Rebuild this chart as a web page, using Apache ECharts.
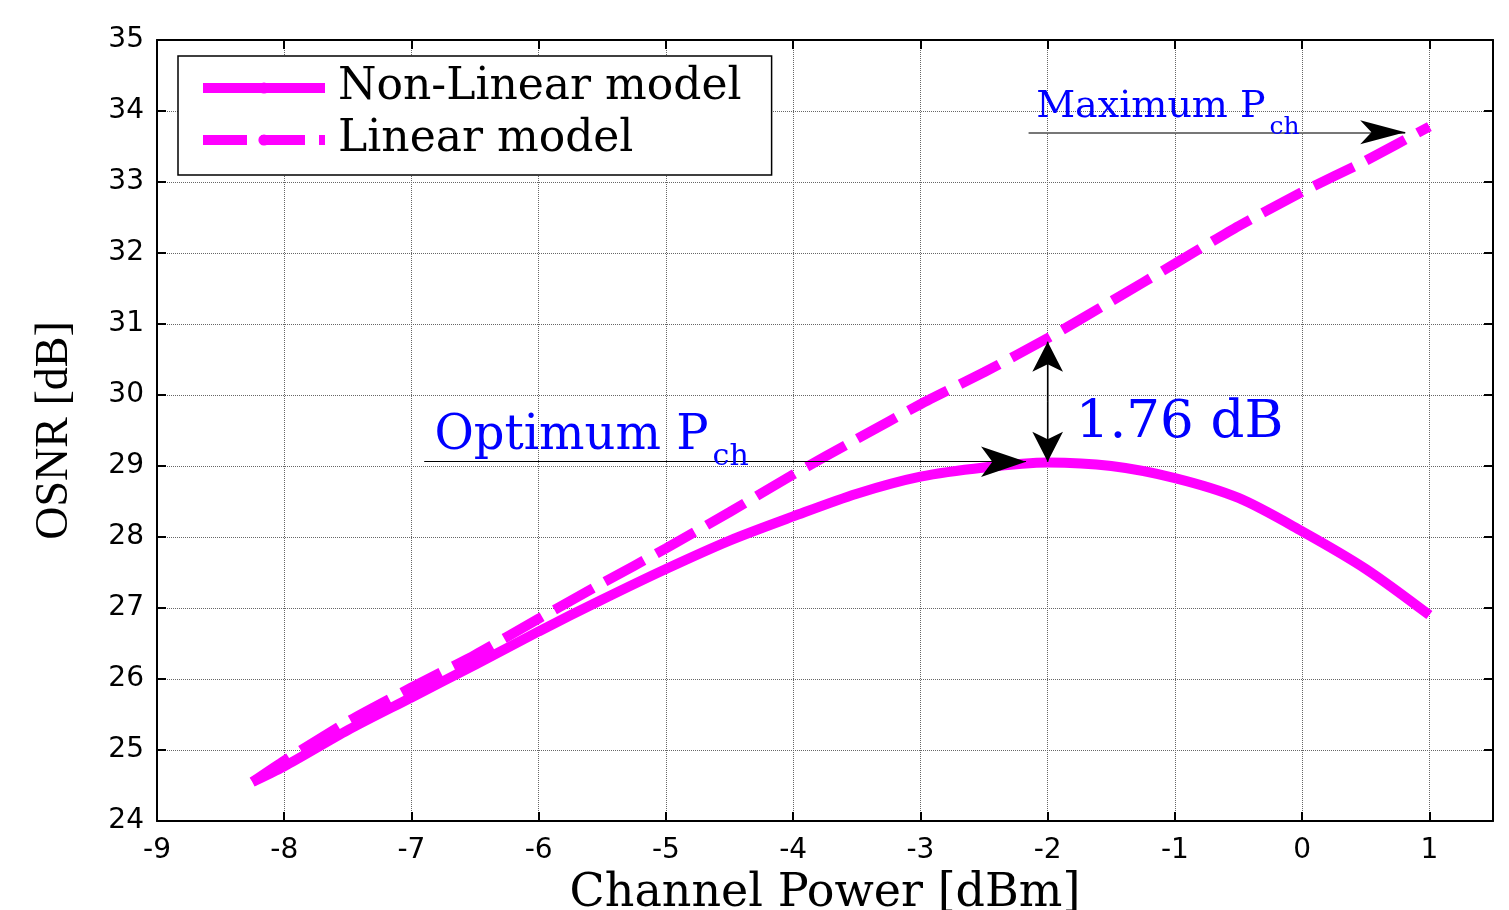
<!DOCTYPE html>
<html>
<head>
<meta charset="utf-8">
<title>OSNR vs Channel Power</title>
<script src="https://cdn.jsdelivr.net/npm/echarts@6/dist/echarts.min.js"></script>
<style>
  html, body { margin: 0; padding: 0; background: #fff; }
  #main { width: 1509px; height: 910px; }
</style>
</head>
<body>
<div id="main"></div>
<script>
// channel power [dBm] and OSNR [dB]
var powerNL = [-8.25, -8, -7.5, -7, -6.5, -6, -5.5, -5, -4.5, -4, -3.5, -3, -2.5, -2, -1.5, -1, -0.5, 0, 0.5, 1];
var osnrNL = [24.55, 24.77, 25.28, 25.74, 26.2, 26.67, 27.12, 27.55, 27.95, 28.29, 28.61, 28.85, 28.98, 29.05, 29.0, 28.83, 28.55, 28.08, 27.55, 26.9];
var powerLin = [-8.25, -8, -7.5, -7, -6.5, -6, -5.5, -5, -4.5, -4, -3.5, -3, -2.5, -2, -1.5, -1, -0.5, 0, 0.5, 1];
var osnrLin = [24.55, 24.85, 25.4, 25.88, 26.34, 26.85, 27.35, 27.84, 28.35, 28.88, 29.38, 29.87, 30.32, 30.8, 31.32, 31.85, 32.38, 32.86, 33.3, 33.78];

// axes
var xMin = -9, xMax = 1.5, xLastTick = 1;
var yMin = 24, yMax = 35;

// annotations (data coords)
var optPoint = [-2, 29.06];     // optimum Pch
var gapTop = 30.75;             // linear model at optimum
var optLineStart = -6.9;
var optArrowTip = -2.17;
var maxY = 33.70;
var maxLineStart = -2.15;
var maxArrowTip = 0.81;

var magenta = '#ff00ff';
var serif = 'DejaVu Serif';

var chart = echarts.init(document.getElementById('main'));

function pairs(xs, ys) {
  return xs.map(function (x, i) { return [x, ys[i]]; });
}

function frameAxis(pos, isX) {
  var a = {
    type: 'value',
    position: pos,
    axisLine: { show: true, onZero: false, lineStyle: { color: '#000', width: 2 } },
    axisTick: { show: true, inside: true, length: 9, lineStyle: { color: '#000', width: 2 } },
    axisLabel: { show: false },
    splitLine: { show: false }
  };
  if (isX) { a.min = xMin; a.max = xMax; a.interval = 1; }
  else { a.min = yMin; a.max = yMax; a.interval = 1; }
  return a;
}

var gridLine = { show: true, lineStyle: { color: '#666', type: 'dotted', width: 1 } };

var bottomAxis = frameAxis('bottom', true);
bottomAxis.name = 'Channel Power [dBm]';
bottomAxis.nameLocation = 'middle';
bottomAxis.nameGap = 50;
bottomAxis.nameTextStyle = { fontFamily: serif, fontSize: 46, color: '#000' };
bottomAxis.axisLabel = {
  show: true, color: '#000', fontFamily: 'DejaVu Sans', fontSize: 28, margin: 16,
  formatter: function (v) { return v > xLastTick ? '' : String(v); }
};
bottomAxis.splitLine = gridLine;

var leftAxis = frameAxis('left', false);
leftAxis.name = 'OSNR [dB]';
leftAxis.nameLocation = 'middle';
leftAxis.nameGap = 79;
leftAxis.nameTextStyle = { fontFamily: 'Liberation Serif', fontSize: 46, color: '#000' };
leftAxis.axisLabel = { show: true, color: '#000', fontFamily: 'DejaVu Sans', fontSize: 28, margin: 13 };
leftAxis.splitLine = gridLine;

// short black segment carrying an arrow head at a line end
function head(from, to, size) {
  return [
    { coord: from, symbol: 'none', lineStyle: { color: '#000', width: 1.2, type: 'solid' } },
    { coord: to, symbol: 'arrow', symbolSize: size }
  ];
}

option = {
  animation: false,
  backgroundColor: '#fff',
  grid: { left: 157, right: 16, top: 40, bottom: 89, outerBoundsMode: 'none', containLabel: false },
  legend: {
    left: 178,
    top: 56,
    orient: 'vertical',
    backgroundColor: '#fff',
    borderColor: '#000',
    borderWidth: 1.5,
    padding: [9, 30, 12, 20],
    itemGap: 6,
    itemWidth: 122,
    itemHeight: 14,
    lineStyle: { width: 10 },
    textStyle: { fontFamily: serif, fontSize: 44, lineHeight: 46, color: '#000', padding: [0, 0, 0, 8] },
    data: ['Non-Linear model', 'Linear model']
  },
  xAxis: [bottomAxis, frameAxis('top', true)],
  yAxis: [leftAxis, frameAxis('right', false)],
  series: [
    {
      name: 'Linear model',
      type: 'line',
      data: pairs(powerLin, osnrLin),
      symbol: 'none',
      smooth: 0.2,
      color: magenta,
      lineStyle: { color: magenta, width: 10, type: [44, 14] },
      z: 3
    },
    {
      name: 'Non-Linear model',
      type: 'line',
      data: pairs(powerNL, osnrNL),
      symbol: 'none',
      smooth: 0.3,
      color: magenta,
      lineStyle: { color: magenta, width: 10 },
      z: 2,
      markLine: {
        silent: true,
        animation: false,
        label: { show: false },
        emphasis: { disabled: true },
        data: [
          [
            { coord: [optLineStart, optPoint[1]], symbol: 'none', lineStyle: { color: '#000', width: 1.2, type: 'solid' } },
            { coord: [optArrowTip, optPoint[1]], symbol: 'arrow', symbolSize: [23, 45] }
          ],
          [
            { coord: [optPoint[0], optPoint[1]], symbol: 'none', lineStyle: { color: '#555', width: 1.5, type: 'solid' } },
            { coord: [optPoint[0], gapTop], symbol: 'none' }
          ],
          head([optPoint[0], (optPoint[1] + gapTop) / 2], [optPoint[0], gapTop], [23, 30]),
          head([optPoint[0], (optPoint[1] + gapTop) / 2], [optPoint[0], optPoint[1]], [23, 30]),
          [
            { coord: [maxLineStart, maxY], symbol: 'none', lineStyle: { color: '#777', width: 2, type: 'solid' } },
            { coord: [maxArrowTip, maxY], symbol: 'none' }
          ],
          head([maxArrowTip - 0.2, maxY], [maxArrowTip, maxY], [18, 45])
        ]
      }
    }
  ]
};

chart.setOption(option);

// text notes, anchored at the baseline-left of the main text
var baseK = 0.68;
function px(pt) {
  return chart.convertToPixel({ xAxisIndex: 0, yAxisIndex: 0 }, pt);
}

function note(pt, main, sub, size, subSize, subDrop) {
  var p = px(pt);
  var text = '{m|' + main + '}' + (sub ? '{s|' + sub + '}' : '');
  var pad = subDrop + baseK * size - baseK * subSize;
  return {
    type: 'text',
    x: p[0],
    y: p[1] - baseK * size,
    z: 100,
    style: {
      text: text,
      fill: '#0000ff',
      align: 'left',
      verticalAlign: 'top',
      rich: {
        m: { fontFamily: serif, fontSize: size, lineHeight: size, fill: '#0000ff', verticalAlign: 'top' },
        s: { fontFamily: serif, fontSize: subSize, lineHeight: subSize, fill: '#0000ff', verticalAlign: 'top', padding: [pad, 0, 0, 4] }
      }
    }
  };
}

chart.setOption({
  graphic: [
    note([-6.82, 29.30], 'Optimum P', 'ch', 48, 30, 18),
    note([-1.78, 29.47], '1.76 dB', '', 53, 30, 0),
    note([-2.09, 33.96], 'Maximum P', 'ch', 38, 25, 18)
  ]
});
</script>
</body>
</html>
